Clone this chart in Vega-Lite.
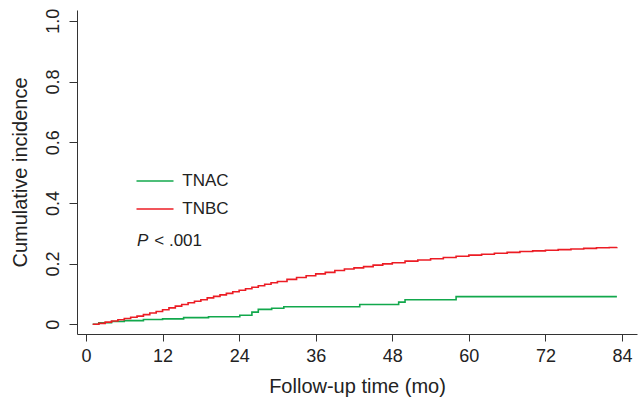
{
  "$schema": "https://vega.github.io/schema/vega-lite/v6.json",
  "width": 560,
  "height": 324,
  "autosize": "none",
  "padding": {"left": 77, "top": 10, "right": 1, "bottom": 66},
  "background": "white",
  "config": {
    "view": {"stroke": null},
    "font": "Liberation Sans",
    "axis": {"grid": false, "domainColor": "#333333", "tickColor": "#333333", "labelColor": "#222222", "titleColor": "#222222", "labelFont": "Liberation Sans", "titleFont": "Liberation Sans", "titleFontWeight": "normal", "labelFontSize": 18, "titleFontSize": 20, "domainWidth": 1, "tickWidth": 1}
  },
  "layer": [
    {
      "data": {"values": [
        {"group": "TNAC", "t": 1.05, "v": 0},
        {"group": "TNAC", "t": 2, "v": 0.005},
        {"group": "TNAC", "t": 4, "v": 0.009},
        {"group": "TNAC", "t": 6, "v": 0.012},
        {"group": "TNAC", "t": 9, "v": 0.016},
        {"group": "TNAC", "t": 12, "v": 0.018},
        {"group": "TNAC", "t": 15.3, "v": 0.022},
        {"group": "TNAC", "t": 19.2, "v": 0.025},
        {"group": "TNAC", "t": 24.1, "v": 0.03},
        {"group": "TNAC", "t": 26.0, "v": 0.04},
        {"group": "TNAC", "t": 27.0, "v": 0.049},
        {"group": "TNAC", "t": 29.1, "v": 0.053},
        {"group": "TNAC", "t": 31.0, "v": 0.058},
        {"group": "TNAC", "t": 42.9, "v": 0.065},
        {"group": "TNAC", "t": 49.0, "v": 0.073},
        {"group": "TNAC", "t": 50.0, "v": 0.081},
        {"group": "TNAC", "t": 58.0, "v": 0.091},
        {"group": "TNAC", "t": 83.2, "v": 0.091},
        {"group": "TNBC", "t": 1.05, "v": 0},
        {"group": "TNBC", "t": 2, "v": 0.003},
        {"group": "TNBC", "t": 3, "v": 0.007},
        {"group": "TNBC", "t": 4, "v": 0.011},
        {"group": "TNBC", "t": 5, "v": 0.015},
        {"group": "TNBC", "t": 6, "v": 0.019},
        {"group": "TNBC", "t": 7, "v": 0.023},
        {"group": "TNBC", "t": 8, "v": 0.027},
        {"group": "TNBC", "t": 9, "v": 0.032},
        {"group": "TNBC", "t": 10, "v": 0.037},
        {"group": "TNBC", "t": 11, "v": 0.042},
        {"group": "TNBC", "t": 12, "v": 0.048},
        {"group": "TNBC", "t": 13, "v": 0.054},
        {"group": "TNBC", "t": 14, "v": 0.06},
        {"group": "TNBC", "t": 15, "v": 0.065},
        {"group": "TNBC", "t": 16, "v": 0.071},
        {"group": "TNBC", "t": 17, "v": 0.076},
        {"group": "TNBC", "t": 18, "v": 0.081},
        {"group": "TNBC", "t": 19, "v": 0.087},
        {"group": "TNBC", "t": 20, "v": 0.092},
        {"group": "TNBC", "t": 21, "v": 0.097},
        {"group": "TNBC", "t": 22, "v": 0.102},
        {"group": "TNBC", "t": 23, "v": 0.107},
        {"group": "TNBC", "t": 24, "v": 0.112},
        {"group": "TNBC", "t": 25, "v": 0.117},
        {"group": "TNBC", "t": 26, "v": 0.122},
        {"group": "TNBC", "t": 27, "v": 0.127},
        {"group": "TNBC", "t": 28, "v": 0.132},
        {"group": "TNBC", "t": 29, "v": 0.137},
        {"group": "TNBC", "t": 30, "v": 0.141},
        {"group": "TNBC", "t": 31.5, "v": 0.148},
        {"group": "TNBC", "t": 33, "v": 0.154},
        {"group": "TNBC", "t": 34.5, "v": 0.16},
        {"group": "TNBC", "t": 36, "v": 0.166},
        {"group": "TNBC", "t": 37.5, "v": 0.171},
        {"group": "TNBC", "t": 39, "v": 0.177},
        {"group": "TNBC", "t": 40.5, "v": 0.182},
        {"group": "TNBC", "t": 42, "v": 0.186},
        {"group": "TNBC", "t": 43.5, "v": 0.19},
        {"group": "TNBC", "t": 45, "v": 0.195},
        {"group": "TNBC", "t": 46.5, "v": 0.199},
        {"group": "TNBC", "t": 48, "v": 0.203},
        {"group": "TNBC", "t": 50, "v": 0.208},
        {"group": "TNBC", "t": 52, "v": 0.212},
        {"group": "TNBC", "t": 54, "v": 0.216},
        {"group": "TNBC", "t": 56, "v": 0.22},
        {"group": "TNBC", "t": 58, "v": 0.224},
        {"group": "TNBC", "t": 60, "v": 0.228},
        {"group": "TNBC", "t": 62, "v": 0.231},
        {"group": "TNBC", "t": 64, "v": 0.234},
        {"group": "TNBC", "t": 66, "v": 0.237},
        {"group": "TNBC", "t": 68, "v": 0.24},
        {"group": "TNBC", "t": 70, "v": 0.242},
        {"group": "TNBC", "t": 72, "v": 0.244},
        {"group": "TNBC", "t": 74, "v": 0.246},
        {"group": "TNBC", "t": 76, "v": 0.248},
        {"group": "TNBC", "t": 78, "v": 0.25},
        {"group": "TNBC", "t": 80, "v": 0.252},
        {"group": "TNBC", "t": 82, "v": 0.253},
        {"group": "TNBC", "t": 83.2, "v": 0.254}
      ]},
      "mark": {"type": "line", "interpolate": "step-after", "strokeWidth": 1.6},
      "encoding": {
        "x": {
          "field": "t", "type": "quantitative",
          "scale": {"domain": [-1.41, 86.35], "nice": false, "zero": false},
          "axis": {"values": [0, 12, 24, 36, 48, 60, 72, 84], "title": "Follow-up time (mo)", "tickSize": 7, "labelPadding": 6, "titlePadding": 11, "labelFlush": false, "labelOverlap": false}
        },
        "y": {
          "field": "v", "type": "quantitative",
          "scale": {"domain": [-0.032, 1.0356], "nice": false, "zero": false},
          "axis": {"values": [0, 0.2, 0.4, 0.6, 0.8, 1], "title": "Cumulative incidence", "tickSize": 8, "labelAngle": -90, "labelAlign": "center", "labelBaseline": "bottom", "labelPadding": 7, "titlePadding": 14, "labelExpr": "datum.value == 0 ? '0' : format(datum.value, '.1f')", "labelFlush": false, "labelOverlap": false}
        },
        "color": {
          "field": "group", "type": "nominal",
          "scale": {"domain": ["TNAC", "TNBC"], "range": ["#12a84c", "#ec1c24"]},
          "legend": {"title": null, "orient": "none", "legendX": 69.5, "legendY": 162.5, "padding": 0, "symbolType": "M-2.643,0H2.643", "symbolSize": 196, "symbolStrokeWidth": 1.6, "labelFontSize": 17, "labelColor": "#222222", "labelFont": "Liberation Sans", "labelOffset": 18.8, "rowPadding": 10}
        }
      }
    },
    {
      "data": {"values": [{"t": 8.0, "v": 0.274, "label": "P"}]},
      "mark": {"type": "text", "align": "left", "baseline": "middle", "fontStyle": "italic", "fontSize": 17, "color": "#222222", "font": "Liberation Sans"},
      "encoding": {"x": {"field": "t", "type": "quantitative"}, "y": {"field": "v", "type": "quantitative"}, "text": {"field": "label"}}
    },
    {
      "data": {"values": [{"t": 10.7, "v": 0.274, "label": "< .001"}]},
      "mark": {"type": "text", "align": "left", "baseline": "middle", "fontSize": 17, "color": "#222222", "font": "Liberation Sans"},
      "encoding": {"x": {"field": "t", "type": "quantitative"}, "y": {"field": "v", "type": "quantitative"}, "text": {"field": "label"}}
    }
  ]
}
